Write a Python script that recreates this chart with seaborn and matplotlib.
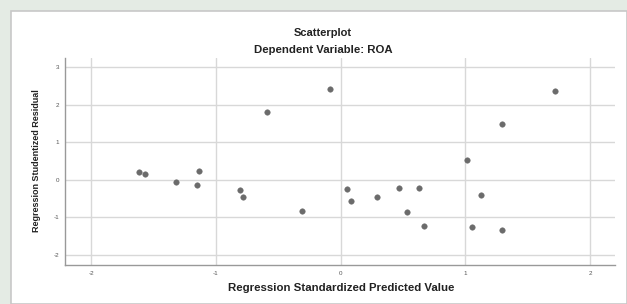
import matplotlib
matplotlib.use("Agg")
import matplotlib.pyplot as plt
import seaborn as sns
import pandas as pd
from matplotlib.patches import Rectangle

predicted = [-1.616, -1.57, -1.322, -1.154, -1.135, -0.809, -0.783, -0.588, -0.31,
             -0.085, 1.717,
             1.29, 1.012, 0.053, 0.08, 0.294, 0.467, 0.628, 0.529, 0.67, 1.124, 1.05, 1.296]
residual = [0.205, 0.16, -0.061, -0.133, 0.24, -0.267, -0.46, 1.81, -0.843,
            2.43, 2.365,
            1.485, 0.543, -0.249, -0.55, -0.444, -0.213, -0.213, -0.861, -1.217, -0.39, -1.253, -1.333]
x_ticks = [-2, -1, 0, 1, 2]
y_ticks = [-2, -1, 0, 1, 2, 3]

df = pd.DataFrame({"pred": predicted, "resid": residual})

sns.set_theme(style="white")
plt.rcParams["font.family"] = ["Liberation Sans", "DejaVu Sans"]

fig = plt.figure(figsize=(6.27, 3.04), dpi=100, facecolor="#e4ebe4")
W, H = 627, 304
fig.patches.append(Rectangle((11 / W, 0), 1 - 11 / W, 1 - 11 / H, transform=fig.transFigure,
                             facecolor="white", edgecolor="#c8c8c8", linewidth=1.2, zorder=-5))

ax = fig.add_axes([65 / W, 1 - 265 / H, (615 - 65) / W, (265 - 58) / H])
ax.set_zorder(2)
ax.set_facecolor("white")
sns.scatterplot(data=df, x="pred", y="resid", ax=ax, color="#6b6b6b", s=16,
                edgecolor="#6b6b6b", linewidth=0.3, zorder=3)

ax.set_xlim(-2.21, 2.2)
ax.set_ylim(-2.27, 3.25)
ax.set_xticks(x_ticks)
ax.set_yticks(y_ticks)
ax.set_xticklabels([str(t) for t in x_ticks])
ax.set_yticklabels([str(t) for t in y_ticks])
ax.tick_params(axis="both", length=0, labelsize=4.5, labelcolor="#555555", pad=4)
ax.grid(True, color="#d8d8d8", linewidth=1.0, zorder=0)
ax.set_axisbelow(True)
for side in ["top", "right"]:
    ax.spines[side].set_visible(False)
for side in ["left", "bottom"]:
    ax.spines[side].set_color("#999999")
    ax.spines[side].set_linewidth(1.0)

ax.set_xlabel("")
ax.set_ylabel("")
fig.text(341 / W, 1 - 288 / H, "Regression Standardized Predicted Value", ha="center", va="center",
         fontsize=8.2, fontweight="bold", color="#222222")
fig.text(37 / W, 1 - 161 / H, "Regression Studentized Residual", ha="center", va="center",
         rotation=90, fontsize=6.5, fontweight="bold", color="#222222")
fig.text(323 / W, 1 - 33 / H, "Scatterplot", ha="center", va="center",
         fontsize=8, fontweight="bold", color="#222222")
fig.text(323 / W, 1 - 50 / H, "Dependent Variable: ROA", ha="center", va="center",
         fontsize=8.2, fontweight="bold", color="#222222")

fig.savefig("out.png", dpi=100, facecolor=fig.get_facecolor())
